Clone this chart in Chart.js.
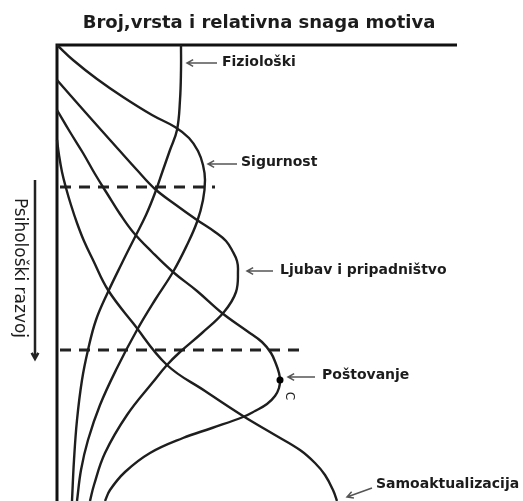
<!DOCTYPE html>
<html lang="hr">
<head>
  <meta charset="UTF-8">
  <title>Broj, vrsta i relativna snaga motiva</title>
  <script src="https://cdn.jsdelivr.net/npm/chart.js"></script>
  <style>
    body { margin: 0; background: #fff; }
    canvas { display: block; }
  </style>
</head>
<body>
  <canvas id="motivi" width="523" height="501"></canvas>

  <script>
    // x = relativna snaga motiva, y = psiholoski razvoj (raste prema dolje)
    const fizioloski = [[124,0],[124,25],[123,55],[120,85],[113,105],[106,125],[98,148],[89,170],[78,192],[65,218],[51,247],[39,275],[31,305],[25,335],[20,375],[17,415],[15,456]];
    const sigurnost = [[0,0],[16,15],[40,34],[66,52],[95,70],[118,82],[132,93],[141,106],[146,120],[148,135],[146,155],[140,177],[130,200],[116,227],[98,255],[80,285],[60,323],[43,360],[31,395],[24,425],[20,456]];
    const ljubav = [[0,35],[14,51],[29,68],[45,86],[62,105],[80,125],[98,144],[119,160],[140,175],[158,187],[169,196],[176,207],[180,216],[181,225],[179,247],[167,267],[145,288],[123,307],[110,320],[96,337],[70,370],[48,408],[37,440],[33,456]];
    const postovanje = [[0,65],[13,87],[26,108],[38,129],[51,150],[63,169],[76,187],[95,207],[116,227],[140,246],[165,268],[190,286],[205,297],[214,308],[219,319],[222,328],[223,335],[222,343],[218,351],[210,359],[198,366],[186,372],[155,383],[126,393],[93,408],[68,427],[53,445],[48,456]];
    const samoakt = [[0,95],[2,110],[5,127],[9,143],[14,160],[20,178],[27,196],[36,215],[51,245],[76,278],[110,320],[148,346],[186,371],[218,390],[243,405],[258,418],[268,430],[276,445],[280,456]];

    const labels = ['Fiziološki', 'Sigurnost', 'Ljubav i pripadništvo', 'Poštovanje', 'Samoaktualizacija'];
    const pragovi = [142, 305];          // razine isprekidanih linija
    const pragKraj = [158, 246];
    const postovanjeTocka = 16;          // indeks oznacene tocke

    const toXY = arr => arr.map(p => ({ x: p[0], y: p[1] }));

    const curve = (label, arr, extra) => Object.assign({
      label: label,
      data: toXY(arr),
      showLine: true,
      borderColor: '#1e1e1e',
      borderWidth: 2.4,
      pointRadius: 0,
      tension: 0.4,
      clip: false
    }, extra || {});

    const datasets = [
      curve(labels[0], fizioloski),
      curve(labels[1], sigurnost),
      curve(labels[2], ljubav),
      curve(labels[3], postovanje, {
        pointRadius: postovanje.map((p, i) => i === postovanjeTocka ? 3.5 : 0),
        pointBackgroundColor: '#000',
        pointBorderWidth: 0
      }),
      curve(labels[4], samoakt),
      // okvir
      { label: 'os', data: [{ x: 0, y: 456 }, { x: 0, y: 0 }, { x: 400, y: 0 }], showLine: true,
        borderColor: '#111', borderWidth: 3, pointRadius: 0, tension: 0, clip: false }
    ];
    pragovi.forEach((y, i) => {
      datasets.push({ label: 'prag' + i, data: [{ x: 3, y: y }, { x: pragKraj[i], y: y }], showLine: true,
        borderColor: '#222', borderWidth: 3, borderDash: [11, 8], pointRadius: 0, clip: false });
    });

    function arrow(ctx, x1, y1, x2, y2) {
      // strelica od (x1,y1) prema (x2,y2)
      const a = Math.atan2(y2 - y1, x2 - x1);
      ctx.beginPath();
      ctx.moveTo(x1, y1); ctx.lineTo(x2, y2);
      ctx.moveTo(x2 - 7 * Math.cos(a - 0.5), y2 - 7 * Math.sin(a - 0.5));
      ctx.lineTo(x2, y2);
      ctx.lineTo(x2 - 7 * Math.cos(a + 0.5), y2 - 7 * Math.sin(a + 0.5));
      ctx.stroke();
    }

    const tekst = {
      id: 'tekst',
      afterDraw(chart) {
        const ctx = chart.ctx;
        ctx.save();
        ctx.fillStyle = '#1c1c1c';
        ctx.textBaseline = 'middle';
        ctx.font = 'bold 18px "DejaVu Sans"';
        ctx.textAlign = 'center';
        ctx.fillText('Broj,vrsta i relativna snaga motiva', 259, 23);

        ctx.font = 'bold 14px "DejaVu Sans"';
        ctx.textAlign = 'left';
        ctx.strokeStyle = '#555';
        ctx.lineWidth = 1.5;
        const oznake = [
          [labels[0], 217, 63, 187, 63, 222, 62],
          [labels[1], 237, 164, 208, 164, 241, 162],
          [labels[2], 273, 271, 247, 271, 280, 270],
          [labels[3], 315, 377, 288, 377, 322, 375],
          [labels[4], 372, 488, 347, 497, 376, 484]
        ];
        oznake.forEach(o => {
          arrow(ctx, o[1], o[2], o[3], o[4]);
          ctx.fillText(o[0], o[5], o[6]);
        });

        // mala oznaka uz tocku
        ctx.save();
        ctx.translate(289, 396);
        ctx.rotate(Math.PI / 2);
        ctx.font = '12px "DejaVu Sans"';
        ctx.textAlign = 'center';
        ctx.fillText('C', 0, 0);
        ctx.restore();

        // psiholoski razvoj
        ctx.strokeStyle = '#222';
        ctx.lineWidth = 2.5;
        arrow(ctx, 35, 180, 35, 359);
        ctx.save();
        ctx.translate(19, 268);
        ctx.rotate(Math.PI / 2);
        ctx.font = '17px "DejaVu Sans"';
        ctx.textAlign = 'center';
        ctx.fillText('Psihološki razvoj', 0, 0);
        ctx.restore();
        ctx.restore();
      }
    };

    new Chart(document.getElementById('motivi'), {
      type: 'scatter',
      data: { datasets: datasets },
      options: {
        responsive: false,
        animation: false,
        layout: { padding: { left: 57, top: 45, right: 0, bottom: 0 } },
        scales: {
          x: { display: false, min: 0, max: 466 },
          y: { display: false, min: 0, max: 456, reverse: true }
        },
        plugins: { legend: { display: false }, tooltip: { enabled: false } }
      },
      plugins: [tekst]
    });
  </script>
</body>
</html>
